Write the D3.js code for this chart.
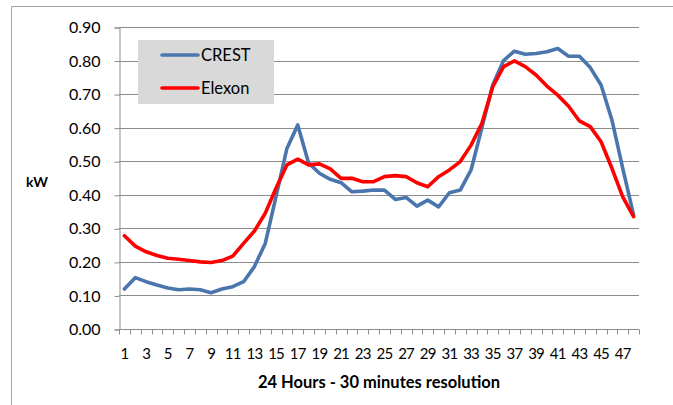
<!DOCTYPE html>
<html>
<head>
<meta charset="utf-8">
<script src="https://cdn.jsdelivr.net/npm/d3@7"></script>
<style>
  html, body { margin: 0; padding: 0; background: #fff; }
  svg { display: block; font-family: Lato, "Liberation Sans", Arial, sans-serif; }
</style>
</head>
<body>
<svg id="chart" width="673" height="405"></svg>
<script>
// Half-hourly average household demand (kW), 48 periods over 24 hours
const periods = d3.range(1, 49);
const crest = [
  0.119, 0.153, 0.141, 0.131, 0.122, 0.117, 0.119, 0.117, 0.108, 0.119,
  0.126, 0.141, 0.186, 0.255, 0.395, 0.538, 0.608, 0.495, 0.464, 0.446,
  0.436, 0.409, 0.411, 0.414, 0.414, 0.386, 0.392, 0.366, 0.384, 0.364,
  0.406, 0.414, 0.474, 0.600, 0.727, 0.800, 0.828, 0.819, 0.821, 0.826,
  0.836, 0.813, 0.813, 0.779, 0.727, 0.623, 0.479, 0.340
];
const elexon = [
  0.278, 0.247, 0.230, 0.219, 0.211, 0.208, 0.204, 0.200, 0.198, 0.204,
  0.217, 0.255, 0.292, 0.345, 0.420, 0.489, 0.506, 0.489, 0.492, 0.477,
  0.449, 0.449, 0.439, 0.439, 0.454, 0.457, 0.454, 0.436, 0.424, 0.454,
  0.474, 0.499, 0.548, 0.613, 0.722, 0.782, 0.799, 0.782, 0.757, 0.724,
  0.697, 0.664, 0.620, 0.603, 0.558, 0.479, 0.394, 0.335
];
const yTicks = [0, 0.1, 0.2, 0.3, 0.4, 0.5, 0.6, 0.7, 0.8, 0.9];
const xTickLabels = periods.filter(p => p % 2 === 1);
const seriesNames = ["CREST", "Elexon"];
const seriesColors = ["#4a76ad", "#ff0000"];

const svg = d3.select("#chart");
const plot = { left: 119, right: 639, top: 27, bottom: 329 };

// Outer frame (top and left edges visible)
svg.append("path")
  .attr("d", "M11.5,405 V6.5 H673")
  .attr("fill", "none").attr("stroke", "#a6a6a6").attr("stroke-width", 1);

const x = d3.scaleBand().domain(periods).range([plot.left, plot.right]);
const y = d3.scaleLinear().domain([0, 0.9]).range([plot.bottom, plot.top]);

// Horizontal gridlines
svg.append("g").selectAll("line").data(yTicks.slice(1)).join("line")
  .attr("x1", plot.left).attr("x2", plot.right)
  .attr("y1", d => Math.round(y(d)) + 0.5).attr("y2", d => Math.round(y(d)) + 0.5)
  .attr("stroke", "#8c8c8c").attr("stroke-width", 1);

// Y axis
const yAxis = d3.axisLeft(y).tickValues(yTicks).tickFormat(d3.format(".2f")).tickSize(5).tickPadding(14);
const gy = svg.append("g").attr("transform", `translate(${plot.left + 0.5},0.5)`).call(yAxis);
gy.select(".domain").attr("stroke", "#8c8c8c");
gy.selectAll(".tick line").attr("stroke", "#8c8c8c");
gy.selectAll("text").attr("font-size", 16).attr("fill", "#000")
  .attr("font-family", "Lato, 'Liberation Sans', sans-serif");

// X axis: ticks on band boundaries, labels on odd periods
const gx = svg.append("g").attr("transform", `translate(0,${plot.bottom + 0.5})`);
gx.append("line").attr("x1", plot.left).attr("x2", plot.right)
  .attr("stroke", "#8c8c8c");
const bounds = periods.map(p => x(p)).concat([plot.right]);
gx.selectAll("line.tk").data(bounds).join("line").attr("class", "tk")
  .attr("x1", d => Math.round(d) + 0.5).attr("x2", d => Math.round(d) + 0.5)
  .attr("y1", 0).attr("y2", 5).attr("stroke", "#8c8c8c");
gx.selectAll("text").data(xTickLabels).join("text")
  .attr("x", d => x(d) + x.bandwidth() / 2)
  .attr("y", 29)
  .attr("text-anchor", "middle")
  .attr("font-size", 15)
  .attr("letter-spacing", -0.8)
  .text(d => d);

// Axis titles
svg.append("text").attr("x", 37).attr("y", 187).attr("text-anchor", "middle")
  .attr("font-size", 14).attr("font-weight", "bold").text("kW");
svg.append("text").attr("x", 379).attr("y", 388).attr("text-anchor", "middle")
  .attr("font-size", 16.5).attr("font-weight", "bold").text("24 Hours - 30 minutes resolution");

// Series lines
const line = d3.line()
  .x((d, i) => x(periods[i]) + x.bandwidth() / 2)
  .y(d => y(d));
[crest, elexon].forEach((vals, k) => {
  svg.append("path").datum(vals)
    .attr("fill", "none")
    .attr("stroke", seriesColors[k])
    .attr("stroke-width", 3.6)
    .attr("stroke-linejoin", "round")
    .attr("stroke-linecap", "round")
    .attr("d", line);
});

// Legend
const lg = svg.append("g");
lg.append("rect").attr("x", 138).attr("y", 40).attr("width", 136).attr("height", 64).attr("fill", "#d9d9d9");
seriesNames.forEach((name, k) => {
  const cy = 55 + k * 33;
  lg.append("line").attr("x1", 162).attr("x2", 198).attr("y1", cy).attr("y2", cy)
    .attr("stroke", seriesColors[k]).attr("stroke-width", 3.6).attr("stroke-linecap", "round");
  lg.append("text").attr("x", 201).attr("y", cy + 6).attr("font-size", 16.5).text(name);
});
</script>
</body>
</html>
